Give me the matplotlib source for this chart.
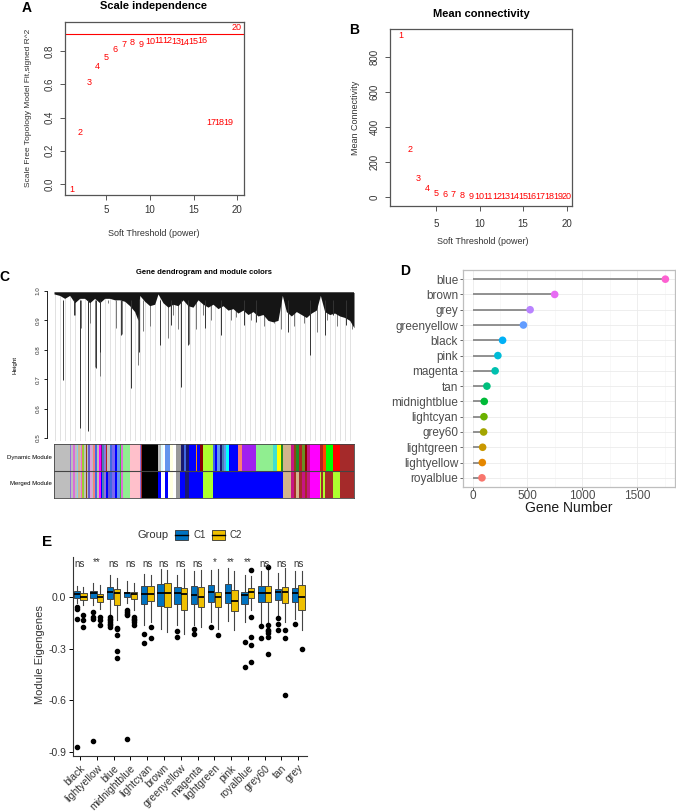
import numpy as np
import matplotlib
matplotlib.use('Agg')
import matplotlib.pyplot as plt
from matplotlib.patches import Rectangle
from matplotlib.lines import Line2D

plt.rcParams['font.family'] = ['Liberation Sans', 'DejaVu Sans']

# ---- A / B : soft threshold ----
powers = list(range(1, 21))
sft_r2 = [-0.03, 0.31, 0.61, 0.71, 0.76, 0.81, 0.84, 0.85, 0.84, 0.855,
          0.865, 0.865, 0.855, 0.85, 0.855, 0.865, 0.37, 0.37, 0.37, 0.94]
mean_k = [925, 274, 108, 51, 23, 17, 12, 8, 6, 5, 4, 3, 3, 2, 2, 2, 1, 1, 1, 1]
r2_cut = 0.90

# ---- C : dendrogram (leaf order 0..900) ----
env_pos = [0, 17, 32, 47, 62, 77, 92, 107, 122, 137, 152, 167, 182, 197, 212, 227, 242, 252,
           257, 272, 287, 302, 312, 327, 342, 357, 372, 387, 402, 417, 432, 447, 462, 477,
           492, 507, 522, 537, 552, 567, 582, 597, 612, 627, 642, 657, 672, 685, 697, 712,
           727, 742, 757, 772, 787, 799, 812, 827, 842, 857, 872, 887, 900]
env_h = [0.99, 0.985, 0.975, 0.985, 0.96, 0.975, 0.975, 0.96, 0.975, 0.96, 0.975, 0.975,
         0.97, 0.97, 0.965, 0.95, 0.93, 0.9, 0.985, 0.965, 0.95, 0.955, 0.99, 0.96, 0.945,
         0.955, 0.95, 0.97, 0.95, 0.945, 0.97, 0.955, 0.945, 0.955, 0.94, 0.95, 0.935, 0.94,
         0.925, 0.935, 0.92, 0.93, 0.915, 0.92, 0.9, 0.895, 0.9, 0.985, 0.93, 0.915, 0.93,
         0.92, 0.91, 0.925, 0.935, 0.985, 0.93, 0.92, 0.925, 0.915, 0.91, 0.9, 0.875]
# long branches (dark)
drop_pos = [27, 59, 77, 102, 102, 125, 137, 202, 230, 255, 317, 352, 382, 402, 452, 502,
            570, 607, 702, 767, 812, 837, 877]
drop_h = [0.698, 0.919, 0.534, 0.523, 0.698, 0.738, 0.794, 0.851, 0.67, 0.794, 0.817, 0.885,
          0.675, 0.817, 0.873, 0.851, 0.885, 0.896, 0.862, 0.783, 0.851, 0.919, 0.885]
# shorter branches (grey)
twig_pos = [62, 82, 109, 122, 139, 162, 187, 205, 252, 267, 287, 317, 342, 357, 372, 405,
            427, 447, 470, 530, 545, 590, 630, 660, 680, 720, 750, 790, 820, 850, 895]
twig_h = [0.918, 0.874, 0.89, 0.74, 0.71, 0.96, 0.874, 0.853, 0.748, 0.864, 0.88, 0.85,
          0.84, 0.92, 0.87, 0.82, 0.87, 0.92, 0.90, 0.90, 0.91, 0.90, 0.88, 0.89, 0.87,
          0.88, 0.89, 0.86, 0.90, 0.88, 0.87]

dyn_start = [0, 47, 52, 58, 62, 68, 72, 77, 82, 85, 89, 95, 98, 103, 108, 113, 118, 122, 128,
             135, 140, 145, 150, 155, 160, 168, 175, 182, 190, 197, 202, 207, 227, 257, 260,
             265, 312, 322, 327, 332, 347, 357, 367, 382, 390, 395, 405, 427, 430, 437, 447,
             477, 484, 490, 497, 505, 510, 517, 525, 552, 565, 605, 657, 669, 682, 687, 712,
             720, 727, 735, 745, 752, 760, 767, 797, 807, 817, 837, 857, 900]
dyn_col = ['#BEBEBE', '#9370DB', '#BEBEBE', '#DA70D6', '#BEBEBE', '#87CEEB', '#D2B48C',
           '#BEBEBE', '#FF69B4', '#9ACD32', '#BEBEBE', '#8B4513', '#BEBEBE', '#6A5ACD',
           '#DDA0DD', '#BEBEBE', '#F08080', '#4169E1', '#BEBEBE', '#FF00FF', '#8B008B',
           '#4682B4', '#9370DB', '#B22222', '#BEBEBE', '#4169E1', '#7B68EE', '#0000FF',
           '#6495ED', '#32CD32', '#DA70D6', '#90EE90', '#FFC0CB', '#9370DB', '#A52A2A',
           '#000000', '#BEBEBE', '#E0FFFF', '#FFFFFF', '#6495ED', '#FFFFE0', '#FFFFFF',
           '#999999', '#191970', '#4169E1', '#191970', '#0000FF', '#FF8C00', '#0000FF',
           '#8B0000', '#ADFF2F', '#4169E1', '#0000FF', '#6495ED', '#191970', '#4682B4',
           '#6495ED', '#00FFFF', '#0000FF', '#FA8072', '#A020F0', '#90EE90', '#40E0D0',
           '#FFFF00', '#228B22', '#D2B48C', '#C71585', '#8B4513', '#228B22', '#B22222',
           '#6B8E23', '#8B0000', '#C71585', '#FF00FF', '#B22222', '#FF4500', '#00FF00',
           '#FF0000', '#A52A2A']
mrg_start = [0, 47, 52, 58, 62, 68, 72, 77, 82, 85, 89, 95, 98, 103, 108, 113, 118, 122, 128,
             135, 140, 145, 150, 155, 162, 168, 175, 182, 190, 197, 202, 207, 227, 257, 260,
             265, 312, 322, 332, 342, 347, 357, 367, 377, 392, 405, 447, 477, 687, 712, 720,
             727, 735, 745, 752, 760, 767, 797, 802, 807, 812, 837, 857, 900]
mrg_col = ['#BEBEBE', '#9370DB', '#BEBEBE', '#DA70D6', '#BEBEBE', '#87CEEB', '#D2B48C',
           '#BEBEBE', '#FF69B4', '#9ACD32', '#BEBEBE', '#8B4513', '#BEBEBE', '#6A5ACD',
           '#DDA0DD', '#BEBEBE', '#F08080', '#4169E1', '#BEBEBE', '#FF00FF', '#0000FF',
           '#4682B4', '#9370DB', '#0000FF', '#6A5ACD', '#4169E1', '#7B68EE', '#0000FF',
           '#6495ED', '#32CD32', '#DA70D6', '#90EE90', '#FFC0CB', '#9370DB', '#A52A2A',
           '#000000', '#0000FF', '#FFFFFF', '#0000FF', '#FFFFFF', '#FFFFE0', '#FFFFFF',
           '#999999', '#0000FF', '#191970', '#0000FF', '#ADFF2F', '#0000FF', '#D2B48C',
           '#C71585', '#A52A2A', '#D2B48C', '#A52A2A', '#C71585', '#A52A2A', '#C71585',
           '#FF00FF', '#ADFF2F', '#A52A2A', '#ADFF2F', '#A52A2A', '#ADFF2F', '#A52A2A']

# ---- D : module sizes ----
modules_d = ['blue', 'brown', 'grey', 'greenyellow', 'black', 'pink', 'magenta', 'tan',
             'midnightblue', 'lightcyan', 'grey60', 'lightgreen', 'lightyellow', 'royalblue']
gene_num = [1757, 748, 524, 463, 273, 230, 205, 130, 106, 103, 100, 91, 88, 85]
dot_cols = ['#FD61D1', '#E76BF3', '#B983FF', '#619CFF', '#00B0F6', '#00BCD8', '#00C0AF',
            '#00BF7D', '#00BA38', '#6BB100', '#A3A500', '#C99800', '#E58700', '#F8766D']

# ---- E : module eigengenes by group ----
modules_e = ['black', 'lightyellow', 'blue', 'midnightblue', 'lightcyan', 'brown', 'greenyellow',
             'magenta', 'lightgreen', 'pink', 'royalblue', 'grey60', 'tan', 'grey']
sig = ['ns', '**', 'ns', 'ns', 'ns', 'ns', 'ns', 'ns', '*', '**', '**', 'ns', 'ns', 'ns']
c1_q1 = [-0.004, -0.008, -0.014, -0.002, -0.041, -0.053, -0.041, -0.041, -0.027, -0.033, -0.041, -0.027, -0.018, -0.027]
c1_med = [0.020, 0.025, 0.027, 0.022, 0.018, 0.022, 0.022, 0.012, 0.027, 0.022, 0.013, 0.022, 0.027, 0.025]
c1_q3 = [0.035, 0.037, 0.057, 0.031, 0.061, 0.075, 0.057, 0.061, 0.071, 0.075, 0.031, 0.061, 0.045, 0.051]
c1_lo = [-0.037, -0.047, -0.110, -0.037, -0.165, -0.184, -0.165, -0.165, -0.145, -0.139, -0.145, -0.160, -0.106, -0.125]
c1_hi = [0.065, 0.080, 0.130, 0.090, 0.135, 0.160, 0.130, 0.149, 0.159, 0.169, 0.130, 0.149, 0.139, 0.149]
c1_out = [[-0.060, -0.070, -0.125, -0.870], [-0.087, -0.116, -0.126, -0.838],
          [-0.116, -0.126, -0.135, -0.145, -0.155, -0.165, -0.174], [-0.077, -0.087, -0.096, -0.106, -0.823],
          [-0.213, -0.265], [], [-0.200, -0.230], [-0.184, -0.213], [-0.174], [], [-0.261, -0.406],
          [-0.170, -0.236], [-0.122, -0.155, -0.190], [-0.159]]
c2_q1 = [-0.018, -0.030, -0.047, -0.014, -0.022, -0.061, -0.073, -0.057, -0.057, -0.080, -0.008, -0.027, -0.037, -0.073]
c2_med = [0.002, 0.002, 0.022, 0.018, 0.020, 0.022, 0.018, 0.002, 0.002, -0.022, 0.031, 0.022, 0.027, 0.002]
c2_q3 = [0.025, 0.020, 0.045, 0.031, 0.061, 0.080, 0.051, 0.057, 0.031, 0.041, 0.051, 0.061, 0.057, 0.071]
c2_lo = [-0.047, -0.067, -0.135, -0.076, -0.145, -0.204, -0.213, -0.174, -0.184, -0.190, -0.076, -0.145, -0.145, -0.194]
c2_hi = [0.060, 0.070, 0.110, 0.080, 0.130, 0.155, 0.165, 0.155, 0.163, 0.149, 0.120, 0.159, 0.169, 0.149]
c2_out = [[-0.106, -0.135, -0.174], [-0.116, -0.135, -0.165], [-0.178, -0.188, -0.219, -0.314, -0.352],
          [-0.116, -0.126, -0.135, -0.145, -0.165], [-0.174, -0.238], [], [], [], [-0.218], [],
          [0.155, -0.116, -0.232, -0.280, -0.377], [0.174, -0.160, -0.190, -0.200, -0.210, -0.235, -0.329],
          [-0.194, -0.238, -0.571], [-0.304]]

W, H = 676, 811
fig = plt.figure(figsize=(W / 100, H / 100), dpi=100)


def px_axes(l, t, r, b):
    return fig.add_axes([l / W, 1 - b / H, (r - l) / W, (b - t) / H])


def ftext(x, y, s, **kw):
    fig.text(x / W, 1 - y / H, s, **kw)


def r_style(ax):
    for sp in ax.spines.values():
        sp.set_color('#555555')
        sp.set_linewidth(0.9)
    ax.tick_params(length=3.5, width=0.7, color='#555555', labelsize=7, pad=4, labelcolor='#333333')
    for lab in ax.get_yticklabels():
        lab.set_rotation(90)
        lab.set_va('center')


# panel A
axA = px_axes(65, 22, 244, 195)
for p, v in zip(powers, sft_r2):
    axA.text(p, v, str(p), color='red', ha='center', va='center', fontsize=6.5)
axA.axhline(r2_cut, color='red', lw=0.8)
axA.set_xlim(0.24, 20.8)
axA.set_ylim(-0.066, 0.975)
axA.set_xticks([5, 10, 15, 20])
axA.set_yticks([0.0, 0.2, 0.4, 0.6, 0.8])
axA.set_yticklabels(['0.0', '0.2', '0.4', '0.6', '0.8'])
r_style(axA)
ftext(154, 6, 'Scale independence', ha='center', va='center', fontsize=8, fontweight='bold')
ftext(28, 108, 'Scale Free Topology Model Fit,signed R^2', rotation=90, ha='center', va='center', fontsize=6, color='#333333')
ftext(154, 234, 'Soft Threshold (power)', ha='center', va='center', fontsize=6.5, color='#333333')
ftext(27, 8, 'A', ha='center', va='center', fontsize=10, fontweight='bold')

# panel B
axB = px_axes(390, 29, 572, 206)
for p, v in zip(powers, mean_k):
    axB.text(p, v, str(p), color='red', ha='center', va='center', fontsize=6.5)
axB.set_xlim(-0.26, 20.6)
axB.set_ylim(-51, 960)
axB.set_xticks([5, 10, 15, 20])
axB.set_yticks([0, 200, 400, 600, 800])
axB.set_yticklabels(['0', '200', '400', '600', '800'])
r_style(axB)
axB.tick_params(axis='x', pad=6)
ftext(481, 14, 'Mean connectivity', ha='center', va='center', fontsize=8, fontweight='bold')
ftext(355, 118, 'Mean Connectivity', rotation=90, ha='center', va='center', fontsize=6.5, color='#333333')
ftext(483, 242, 'Soft Threshold (power)', ha='center', va='center', fontsize=6.5, color='#333333')
ftext(354, 30, 'B', ha='center', va='center', fontsize=10, fontweight='bold')

# panel C dendrogram
axC = px_axes(54, 289, 354, 441)
axC.vlines(np.arange(4, 900, 15), 0.49, 0.99, color='#D5D5D5', lw=0.5, zorder=1)
axC.vlines(twig_pos, twig_h, 0.97, color='#777777', lw=0.7, zorder=2)
axC.fill_between(env_pos, env_h, 0.995, color='#151515', lw=0, zorder=3)
axC.vlines(drop_pos, drop_h, 0.97, color='#333333', lw=0.7, zorder=3)
axC.hlines(0.995, 0, 900, color='#333333', lw=0.6)
axC.vlines(900, 0.985, 0.995, color='#333333', lw=0.6)
axC.set_xlim(0, 900)
axC.set_ylim(0.4898, 1.0068)
axC.set_xticks([])
axC.set_yticks([0.5, 0.6, 0.7, 0.8, 0.9, 1.0])
for s in ['top', 'right', 'bottom']:
    axC.spines[s].set_visible(False)
axC.spines['left'].set_bounds(0.5, 1.0)
axC.spines['left'].set_position(('outward', 5))
axC.spines['left'].set_linewidth(0.6)
axC.tick_params(axis='y', length=2.5, width=0.6, labelsize=4.5, pad=2, labelcolor='#333333')
for lab in axC.get_yticklabels():
    lab.set_rotation(90)
    lab.set_va('center')
ftext(15, 365, 'Height', rotation=90, ha='center', va='center', fontsize=4.5)
ftext(204, 272, 'Gene dendrogram and module colors', ha='center', va='center', fontsize=5.5, fontweight='bold')
ftext(4, 277, 'C', ha='center', va='center', fontsize=10, fontweight='bold')

axCb = px_axes(54, 444, 354, 498)
dyn_w = np.diff(dyn_start)
mrg_w = np.diff(mrg_start)
axCb.barh(1, dyn_w, left=dyn_start[:-1], height=1, color=dyn_col, lw=0)
axCb.barh(0, mrg_w, left=mrg_start[:-1], height=1, color=mrg_col, lw=0)
axCb.axhline(0.5, color='#444444', lw=0.8)
axCb.set_xlim(0, 900)
axCb.set_ylim(-0.5, 1.5)
axCb.set_xticks([])
axCb.set_yticks([])
for sp in axCb.spines.values():
    sp.set_color('#444444')
    sp.set_linewidth(0.6)
ftext(52, 457, 'Dynamic Module', ha='right', va='center', fontsize=4.3)
ftext(52, 484, 'Merged Module', ha='right', va='center', fontsize=4.3)

# panel D lollipop
axD = px_axes(463, 270, 675, 487)
ypos = np.arange(len(modules_d))[::-1]
gmax = max(gene_num)
axD.set_xlim(-0.05 * gmax, 1.05 * gmax)
axD.set_ylim(-0.6, len(modules_d) - 0.4)
axD.set_xticks([0, 500, 1000, 1500])
axD.set_xticks([250, 750, 1250, 1750], minor=True)
axD.set_yticks(ypos)
axD.set_yticklabels(modules_d)
axD.grid(True, which='major', color='#EBEBEB', lw=0.6)
axD.grid(True, which='minor', axis='x', color='#F3F3F3', lw=0.4)
axD.set_axisbelow(True)
axD.hlines(ypos, 0, gene_num, color='#7F7F7F', lw=1.2, zorder=2)
axD.scatter(gene_num, ypos, s=30, c=dot_cols, zorder=3, linewidths=0)
for sp in axD.spines.values():
    sp.set_color('#BEBEBE')
    sp.set_linewidth(0.9)
axD.tick_params(axis='both', which='major', length=2, width=0.6, color='#4D4D4D', labelsize=8.5, labelcolor='#4D4D4D', pad=1.5)
axD.tick_params(axis='x', which='major', pad=0)
axD.tick_params(which='minor', length=0)
ftext(569, 508, 'Gene Number', ha='center', va='center', fontsize=10, color='#1A1A1A')
ftext(405, 271, 'D', ha='center', va='center', fontsize=10, fontweight='bold')

# panel E boxplots
axE = px_axes(73, 557, 307, 756)
blue_c, gold_c = '#0073C2', '#EFC000'
stats1, stats2 = [], []
for i in range(len(modules_e)):
    stats1.append(dict(med=c1_med[i], q1=c1_q1[i], q3=c1_q3[i], whislo=c1_lo[i], whishi=c1_hi[i], fliers=c1_out[i]))
    stats2.append(dict(med=c2_med[i], q1=c2_q1[i], q3=c2_q3[i], whislo=c2_lo[i], whishi=c2_hi[i], fliers=c2_out[i]))
xe = np.arange(len(modules_e))
for stats, off, col in [(stats1, -0.2, blue_c), (stats2, 0.2, gold_c)]:
    axE.bxp(stats, positions=xe + off, widths=0.38, patch_artist=True, showcaps=False,
            boxprops=dict(facecolor=col, edgecolor='#333333', lw=0.6),
            medianprops=dict(color='black', lw=1.3),
            whiskerprops=dict(color='#444444', lw=0.8),
            flierprops=dict(marker='o', markerfacecolor='black', markeredgecolor='black', markersize=3))
for i, s in enumerate(sig):
    axE.text(i, 0.19 if s == 'ns' else 0.205, s, ha='center', va='center', fontsize=7, color='#333333')
axE.set_xlim(-0.42, len(modules_e) - 0.48)
axE.set_ylim(-0.923, 0.232)
axE.set_yticks([0.0, -0.3, -0.6, -0.9])
axE.set_yticklabels(['0.0', '-0.3', '-0.6', '-0.9'])
axE.set_xticks(xe)
axE.set_xticklabels(modules_e, rotation=45, ha='right', rotation_mode='anchor')
for s in ['top', 'right']:
    axE.spines[s].set_visible(False)
for s in ['left', 'bottom']:
    axE.spines[s].set_linewidth(0.8)
    axE.spines[s].set_color('#333333')
axE.tick_params(length=3, width=0.7, labelsize=7.5, labelcolor='#333333', pad=2)
ftext(40, 655, 'Module Eigengenes', rotation=90, ha='center', va='center', fontsize=8, color='#333333')
ftext(47, 542, 'E', ha='center', va='center', fontsize=11, fontweight='bold')

# legend for E
ftext(153, 535, 'Group', ha='center', va='center', fontsize=8, color='#333333')
for x0, col, lab in [(175, blue_c, 'C1'), (212, gold_c, 'C2')]:
    fig.add_artist(Rectangle((x0 / W, 1 - 540 / H), 13 / W, 10 / H, transform=fig.transFigure,
                             facecolor=col, edgecolor='#333333', lw=0.6))
    fig.add_artist(Line2D([x0 / W, (x0 + 13) / W], [1 - 535 / H, 1 - 535 / H], transform=fig.transFigure,
                          color='black', lw=1))
    ftext(x0 + 18, 535, lab, ha='left', va='center', fontsize=7, color='#333333')

fig.savefig('out.png', dpi=100)
